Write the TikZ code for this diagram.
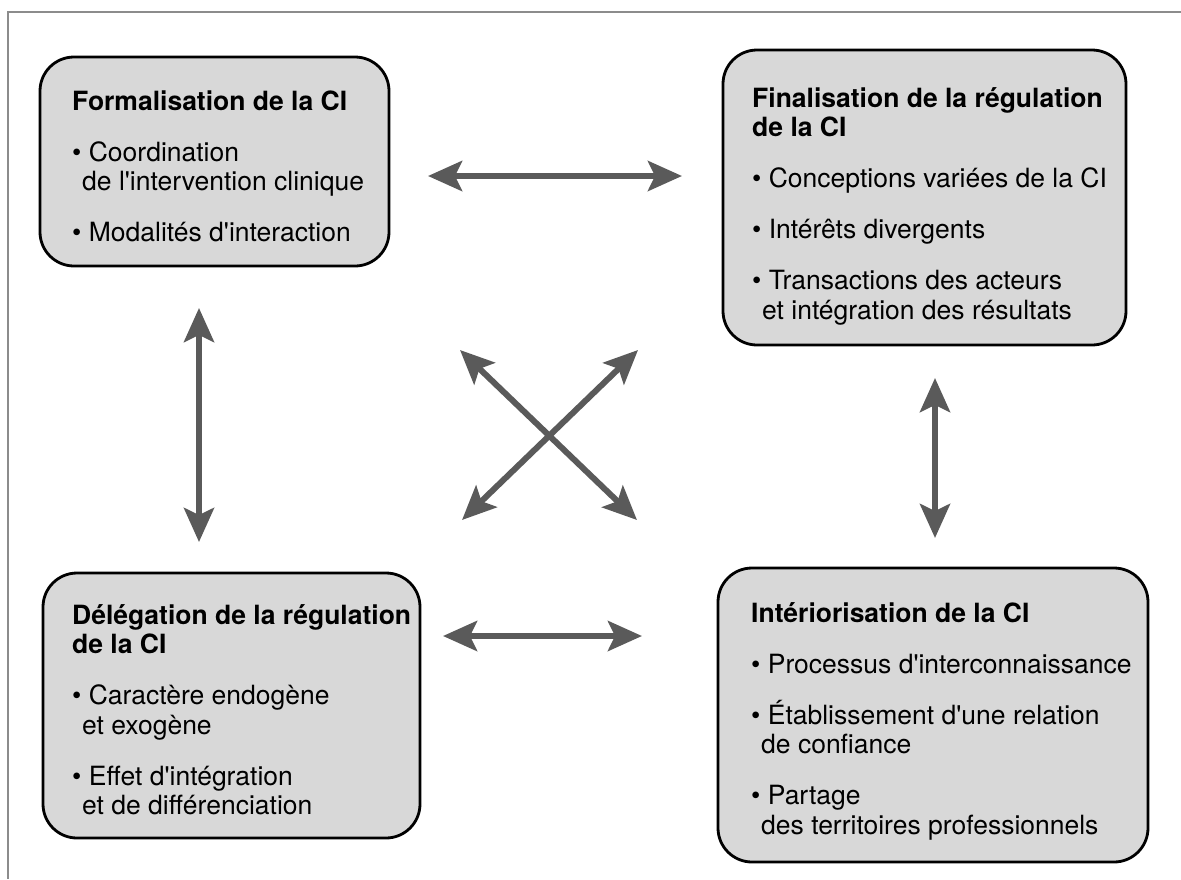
\documentclass[tikz,border=0pt]{standalone}
\usepackage{fontspec}
\setmainfont{TeX Gyre Heros}
\usetikzlibrary{arrows.meta}
\definecolor{boxfill}{RGB}{216,216,216}
\definecolor{arrowgray}{RGB}{90,90,90}
\definecolor{framegray}{RGB}{140,140,140}
\newcommand{\bul}{\textbullet\ }
\newcommand{\ind}{\hspace*{10pt}}
\newcommand{\ap}{\textquotesingle}
\newcommand{\topstrut}{\rule{0pt}{20pt}}
\begin{document}
\begin{tikzpicture}[x=1pt,y=-1pt,
  cibox/.style={draw=black, line width=2.8pt, fill=boxfill, rounded corners=34pt, inner sep=0pt},
  citext/.style={anchor=north west, align=left, inner sep=0pt, font=\fontsize{26.5}{29.5}\selectfont},
  twoway/.style={draw=arrowgray, line width=6pt, {Stealth[length=34pt,width=30pt,inset=7pt]}-{Stealth[length=34pt,width=30pt,inset=7pt]}}
]
\useasboundingbox (0,0) rectangle (1181,879);
% frame
\coordinate (f0) at (1181,12);
\coordinate (f1) at (8,12);
\coordinate (f2) at (8,879);
\draw[framegray, line width=1.5pt] (f0) -- (f1) -- (f2);

% boxes
\node[cibox, minimum width=349pt, minimum height=209pt] (b1) at (214.5,161.5) {};
\node[cibox, minimum width=403pt, minimum height=295pt] (b2) at (924.5,197.5) {};
\node[cibox, minimum width=377pt, minimum height=265pt] (b3) at (231.5,705.5) {};
\node[cibox, minimum width=430pt, minimum height=294pt] (b4) at (933,715) {};

% texts (first baseline = y + 20)
\node[citext] (t1) at (72,90) {\topstrut\textbf{Formalisation de la CI}\\[21.5pt]
\bul Coordination\\
\ind de l\ap intervention clinique\\[21.5pt]
\bul Modalités d\ap interaction};

\node[citext] (t2) at (752,87) {\topstrut\textbf{Finalisation de la régulation}\\
\textbf{de la CI}\\[21.5pt]
\bul Conceptions variées de la CI\\[21.5pt]
\bul Intérêts divergents\\[21.5pt]
\bul Transactions des acteurs\\
\ind et intégration des résultats};

\node[citext] (t3) at (72,604) {\topstrut\textbf{Délégation de la régulation}\\
\textbf{de la CI}\\[21.5pt]
\bul Caractère endogène\\
\ind et exogène\\[21.5pt]
\bul Effet d\ap intégration\\
\ind et de différenciation};

\node[citext] (t4) at (751,602) {\topstrut\textbf{Intériorisation de la CI}\\[21.5pt]
\bul Processus d\ap interconnaissance\\[21.5pt]
\bul Établissement d\ap une relation\\
\ind de confiance\\[21.5pt]
\bul Partage\\
\ind des territoires professionnels};

% arrow end points
\coordinate (h1a) at (428,176);
\coordinate (h1b) at (682,176);
\coordinate (h2a) at (443,636);
\coordinate (h2b) at (642,636);
\coordinate (v1a) at (199,308);
\coordinate (v1b) at (199,542);
\coordinate (v2a) at (935,378);
\coordinate (v2b) at (935,538);
\coordinate (d1a) at (460,350);
\coordinate (d1b) at (637,520);
\coordinate (d2a) at (638,350);
\coordinate (d2b) at (462,520);

\draw[twoway] (h1a) -- (h1b);
\draw[twoway] (h2a) -- (h2b);
\draw[twoway] (v1a) -- (v1b);
\draw[twoway] (v2a) -- (v2b);
\draw[twoway] (d1a) -- (d1b);
\draw[twoway] (d2a) -- (d2b);
\end{tikzpicture}
\end{document}
